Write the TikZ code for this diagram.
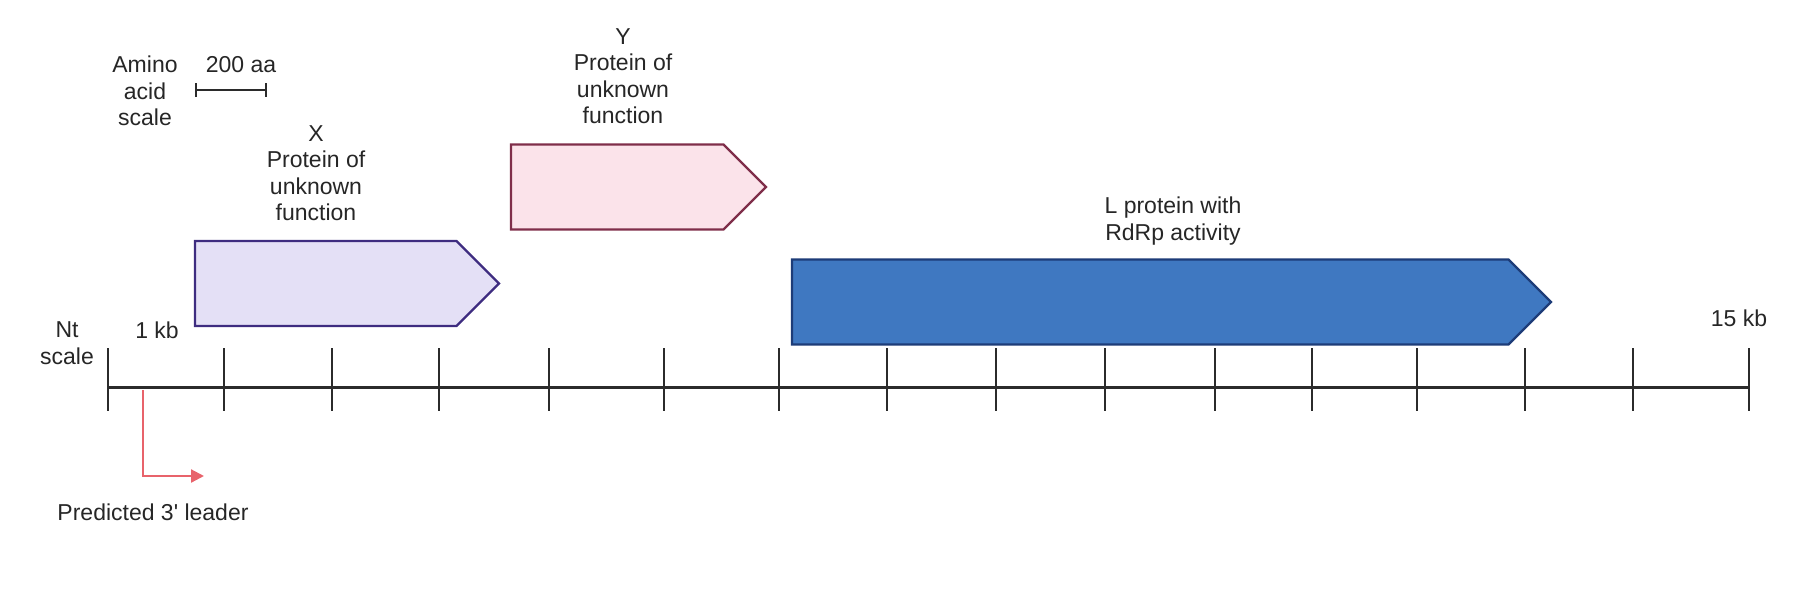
\documentclass[tikz,border=0pt]{standalone}
\usepackage{fontspec}
\setmainfont{Liberation Sans}
\usetikzlibrary{shapes.symbols, arrows.meta, positioning, calc}
\definecolor{xfill}{HTML}{E4E0F6}
\definecolor{xline}{HTML}{3E2C80}
\definecolor{yfill}{HTML}{FBE3EA}
\definecolor{yline}{HTML}{7F2E4A}
\definecolor{lfill}{HTML}{3F78C1}
\definecolor{lline}{HTML}{1D3C78}
\definecolor{axisgray}{HTML}{2B2B2B}
\definecolor{leadred}{HTML}{E8636B}
\tikzset{
  gene/.style = {signal, signal to=east, signal pointer angle=90, draw, line width=2.4pt, minimum height=85pt, inner sep=0pt, outer sep=0pt, anchor=west},
  lbl/.style = {align=center, font=\fontsize{23}{26.5}\selectfont, inner sep=0pt, text=black!85},
  axisline/.style = {line width=3pt, draw=axisgray},
  tickmark/.style = {line width=2.2pt, draw=axisgray},
  arrow/.style = {-{Triangle[length=13pt, width=13pt]}, line width=2.2pt, draw=leadred}
}

\begin{document}
\begin{tikzpicture}[x=1pt, y=-1pt]
\useasboundingbox (0,0) rectangle (1810,598);

% genes
\node[gene, fill=xfill, draw=xline, minimum width=304pt] (xgene) at (195,283.5) {};
\node[gene, fill=yfill, draw=yline, minimum width=255pt] (ygene) at (511,187) {};
\node[gene, fill=lfill, draw=lline, minimum width=759pt] (lgene) at (792,302) {};

\node[lbl] (xlabel) at (316,173) {X\\Protein of\\unknown\\function};
\node[lbl] (ylabel) at (623,76) {Y\\Protein of\\unknown\\function};
\node[lbl] (llabel) at (1173,221) {L protein with\\RdRp activity};

% amino acid scale
\node[lbl] (aascale) at (145,91) {Amino\\acid\\scale};
\coordinate (aa0) at (195,90);
\coordinate (aa1) at (267,90);
\draw[{Bar[width=14pt]}-{Bar[width=14pt]}, line width=2.2pt, draw=axisgray] (aa0) -- (aa1);
\node[lbl] (aalen) at (241,65) {200 aa};

% nucleotide scale
\node[lbl] (ntscale) at (67,343) {Nt\\scale};
\node[lbl] (onekb) at (157,330) {1 kb};
\node[lbl] (fifteenkb) at (1739,318) {15 kb};
\coordinate (axstart) at (108,387);
\coordinate (axend) at (1749,387);
\draw[axisline] (axstart) -- (axend);
\foreach \x in {108,224,332,439,549,664,779,887,996,1105,1215,1312,1417,1525,1633,1749}
  \draw[tickmark] (\x,348) -- (\x,411);

% leader
\coordinate (leadtop) at (143,390);
\coordinate (leadend) at (204,476);
\draw[arrow] (leadtop) |- (leadend);
\node[lbl] (leader) at (153,512) {Predicted 3\textquotesingle{} leader};

\end{tikzpicture}
\end{document}
